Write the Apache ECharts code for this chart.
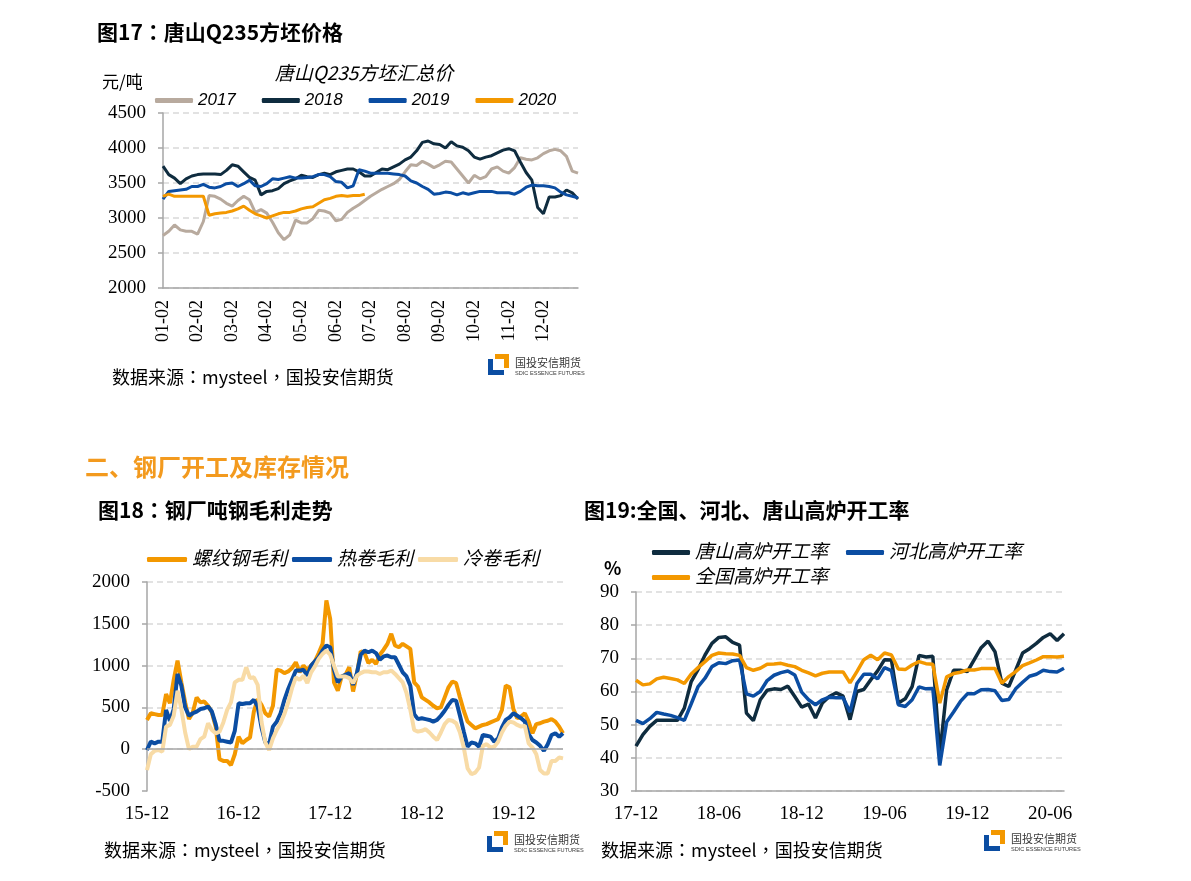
<!DOCTYPE html>
<html><head><meta charset="utf-8">
<script src="https://cdn.jsdelivr.net/npm/echarts/dist/echarts.min.js"></script>
<style>html,body{margin:0;padding:0;background:#fff;}#c{width:1191px;height:881px;}</style>
</head><body><div id="c"></div>
<script>
// ---------- Chart 17 : 唐山Q235方坯汇总价 ----------
const months1 = ['01','02','03','04','05','06','07','08','09','10','11','12'];
const days1 = ['02','07','12','17','22','27'];
const cat1 = [];
months1.forEach(m => days1.forEach(d => cat1.push(m + '-' + d)));
cat1.push('12-31');
const s2017 = [2750,2810,2900,2830,2810,2810,2770,2950,3320,3310,3270,3210,3170,3250,3310,3260,3080,3120,3070,2940,2790,2690,2760,2970,2930,2930,2990,3110,3100,3070,2960,2980,3080,3140,3190,3250,3310,3360,3410,3450,3490,3550,3660,3760,3750,3810,3770,3720,3760,3810,3800,3700,3600,3500,3610,3560,3590,3700,3730,3670,3640,3720,3860,3840,3830,3860,3920,3960,3980,3960,3880,3670,3640];
const s2018 = [3740,3620,3570,3490,3560,3600,3620,3630,3630,3630,3620,3680,3760,3740,3660,3580,3540,3330,3380,3390,3420,3490,3530,3560,3610,3590,3580,3620,3640,3620,3660,3680,3700,3700,3660,3600,3600,3650,3700,3690,3730,3770,3830,3870,3960,4080,4100,4060,4050,4000,4090,4030,4010,3960,3870,3840,3870,3890,3930,3970,3990,3960,3800,3650,3540,3150,3060,3300,3300,3320,3400,3360,3270];
const s2019 = [3270,3380,3390,3400,3410,3450,3450,3480,3440,3430,3450,3490,3500,3450,3490,3540,3460,3450,3490,3560,3550,3570,3590,3570,3570,3580,3590,3620,3620,3590,3520,3510,3430,3460,3690,3670,3640,3640,3640,3640,3630,3620,3600,3530,3500,3450,3410,3340,3350,3370,3360,3330,3360,3340,3360,3380,3380,3380,3360,3360,3360,3340,3380,3440,3470,3460,3460,3450,3430,3370,3330,3310,3290];
const s2020 = [3310,3340,3310,3310,3310,3310,3310,3310,3040,3060,3070,3080,3100,3130,3170,3110,3060,3030,3000,3030,3060,3080,3080,3100,3130,3150,3160,3210,3260,3280,3310,3320,3310,3320,3320,3340];

// ---------- Chart 18 : 钢厂吨钢毛利 ----------
const cat2 = [];
for (let y = 2015, m = 12; y < 2020 || (y === 2020 && m <= 6); ) {
  const mm = (m < 10 ? '0' : '') + m;
  cat2.push(y + '-' + mm + '-01'); cat2.push(y + '-' + mm + '-16');
  m++; if (m > 12) { m = 1; y++; }
}
const rebar = [350,430,420,410,410,660,550,830,1060,800,560,360,440,620,560,570,520,440,270,-120,-140,-140,-190,-60,150,70,110,140,450,600,530,430,390,520,950,940,910,930,970,1040,920,1000,950,1000,1050,1150,1260,1780,1560,800,700,870,890,980,690,900,1170,1150,1030,1070,1020,1130,1190,1260,1380,1240,1220,1260,1230,1200,800,750,620,590,560,520,490,500,620,740,810,790,620,460,330,290,250,270,290,300,320,340,360,470,760,740,480,370,390,430,330,190,300,310,330,340,360,330,270,190];
const hotRoll = [-10,90,70,90,90,470,340,480,900,760,500,400,430,450,480,490,510,450,300,100,100,90,80,220,550,540,550,550,590,510,260,80,60,270,330,430,590,720,830,940,940,950,880,1000,1050,1100,1180,1240,1220,950,800,870,890,910,770,910,1130,1180,1160,1180,1150,1070,1110,1120,1100,1100,1010,920,870,760,420,360,370,360,350,330,350,400,460,530,590,580,400,210,30,80,70,30,170,160,150,90,130,260,350,380,430,400,370,330,180,110,80,40,-20,60,170,190,150,190];
const coldRoll = [-250,-60,-20,-10,-30,270,290,400,700,480,200,0,30,30,120,150,310,230,190,210,320,470,560,800,830,830,980,850,860,770,330,80,-10,130,230,310,420,560,730,860,830,880,790,920,990,1080,1140,1180,1130,1000,870,870,870,850,790,880,910,930,930,920,920,900,920,920,940,900,850,800,670,470,230,210,220,240,200,150,110,200,300,350,340,310,200,20,-230,-300,-280,-220,40,60,20,30,90,200,280,330,320,290,270,280,70,20,-60,-250,-290,-290,-140,-140,-100,-110];

// ---------- Chart 19 : 高炉开工率 ----------
const cat3 = [];
for (let y = 2017, m = 12; y < 2020 || (y === 2020 && m <= 6); ) {
  const mm = (m < 10 ? '0' : '') + m;
  cat3.push(y + '-' + mm + '-01'); cat3.push(y + '-' + mm + '-16');
  m++; if (m > 12) { m = 1; y++; }
}
cat3.push('2020-07-01');
const tangshan = [43.5,47,49.5,51.3,51.3,51.3,51.3,55,63,66.7,71,74.5,76.3,76.5,74.8,74,53.5,51.2,57.5,60.4,60.8,60.6,61.6,58.5,55.3,56.2,52,56.5,58.5,59.6,58.6,51.5,60,60.6,63.5,66.2,69.6,69.5,56.5,57.8,61.5,70.9,70.4,70.6,41,60.5,66.4,66.4,66,69.6,73.2,75.2,72,62.5,61.5,66.4,71.6,72.9,74.5,76.3,77.4,75.4,77.4];
const hebei = [51.3,50.3,51.8,53.7,53.2,52.8,52.1,51.3,56.3,61.5,64,67.5,68.7,68.4,69.3,69.5,59.3,58.6,60,63.3,64.9,65.7,66.2,65,59.8,57.5,56,57.5,58.3,58.1,58.1,53.8,62.4,65.2,65.2,63.8,67.2,66.3,56,55.5,57.5,61.4,60.8,60.9,37.7,50.8,53.8,57,59.3,59.3,60.5,60.6,60.2,57.3,57.6,60.8,62.8,64.6,65.2,66.4,66,65.9,67];
const national = [63.4,62,62.3,63.8,64.3,63.9,63.5,62.4,65.3,67.2,69,70.9,71.6,71.4,71.3,70.9,67.2,66.4,67,68.2,68.3,68.5,67.9,67.5,66.4,65.6,64.7,65.5,65.9,65.9,65.9,62.6,66,69.6,70.9,69.6,71.6,71,66.8,66.6,68,69,68.4,68.2,56.5,64.4,65.4,65.8,66.5,66.5,66.9,66.9,66.9,62.5,64.5,66,67.8,68.6,69.5,70.5,70.5,70.4,70.6];

// ---------- styling ----------
const SERIF = '"Liberation Serif","Times New Roman",serif';
const CJK = '"Noto Sans CJK TC","Noto Sans CJK SC","Noto Sans",sans-serif';
const CJKSC = '"Noto Sans CJK SC","Noto Sans",sans-serif';
const LEG = '"Liberation Sans","Noto Sans CJK SC",sans-serif';
const GREY = '#a6a6a6', GRID = '#d9d9d9';
const C_BEIGE = '#b8aa9e', C_NAVY = '#0f2c3f', C_BLUE = '#0b4da2', C_ORANGE = '#f39800', C_PALE = '#f8dba6';
const ORANGE_TXT = '#f39a1e';

function yAx(grid, min, max, interval, splitColors) {
  return {
    gridIndex: grid, type: 'value', min, max, interval,
    axisLine: { show: true, lineStyle: { color: GREY, width: 1.5 } },
    axisTick: { show: true, length: 5, lineStyle: { color: GREY, width: 1.5 } },
    splitLine: { show: true, lineStyle: { color: splitColors || GRID, type: [6, 4], width: 1.5 } },
    axisLabel: { margin: 17, fontFamily: SERIF, fontSize: 19, color: '#000', formatter: (v) => String(v) }
  };
}
function line(name, xi, data, color, width, extra) {
  return Object.assign({
    name, type: 'line', xAxisIndex: xi, yAxisIndex: xi, data, symbol: 'none',
    color, lineStyle: { color, width }, animation: false
  }, extra || {});
}
function legend(data, left, top, gap, w, fs) {
  return {
    data, left, top, padding: 0, itemGap: gap, itemWidth: w, itemHeight: 5, icon: 'roundRect',
    selectedMode: false,
    textStyle: { fontSize: fs, fontStyle: 'italic', fontFamily: LEG, color: '#000' }
  };
}
function txt(text, x, y, font, fill, align) {
  return { type: 'text', x, y, silent: true,
    style: { text, font, fill: fill || '#000', textAlign: align || 'left', align: align || 'left',
      textVerticalAlign: 'middle', verticalAlign: 'middle' } };
}
function logo(x, y) {
  return { type: 'group', x, y, silent: true, children: [
    { type: 'rect', shape: { x: 7, y: 0, width: 14, height: 5 }, style: { fill: C_ORANGE } },
    { type: 'rect', shape: { x: 16, y: 0, width: 5, height: 14 }, style: { fill: C_ORANGE } },
    { type: 'rect', shape: { x: 0, y: 5, width: 5, height: 16 }, style: { fill: C_BLUE } },
    { type: 'rect', shape: { x: 0, y: 16, width: 16, height: 5 }, style: { fill: C_BLUE } },
    txt('国投安信期货', 27, 9, '11px ' + CJKSC, '#3a3a3a'),
    txt('SDIC ESSENCE FUTURES', 27, 19, '5.6px "Liberation Sans"', '#3a3a3a')
  ]};
}

const chart = echarts.init(document.getElementById('c'), null, { renderer: 'canvas' });
chart.setOption({
  animation: false,
  backgroundColor: '#fff',
  grid: [
    { left: 163, top: 113, width: 415, height: 175 },
    { left: 147, top: 582, width: 416, height: 209 },
    { left: 636, top: 592, width: 428, height: 199 }
  ],
  xAxis: [
    { gridIndex: 0, type: 'category', data: cat1, boundaryGap: false,
      axisLine: { lineStyle: { color: GREY, width: 1.5 } }, axisTick: { show: false },
      axisLabel: { interval: (i) => i % 6 === 0 && i < 72, rotate: 90, margin: 12,
        fontFamily: SERIF, fontSize: 18, color: '#000' } },
    { gridIndex: 1, type: 'category', data: cat2, boundaryGap: false,
      axisLine: { show: false }, axisTick: { show: false },
      axisLabel: { interval: (i) => i % 24 === 0, formatter: (v) => v.slice(2, 7), margin: 14,
        fontFamily: SERIF, fontSize: 19, color: '#000' } },
    { gridIndex: 2, type: 'category', data: cat3, boundaryGap: false,
      axisLine: { lineStyle: { color: GREY, width: 1.5 } }, axisTick: { show: false },
      axisLabel: { interval: (i) => i % 12 === 0, formatter: (v) => v.slice(2, 7), margin: 14,
        fontFamily: SERIF, fontSize: 19, color: '#000' } }
  ],
  yAxis: [
    yAx(0, 2000, 4500, 500),
    yAx(1, -500, 2000, 500, ['rgba(0,0,0,0)', GRID, GRID, GRID, GRID, GRID]),
    yAx(2, 30, 90, 10)
  ],
  legend: [
    legend(['2017', '2018', '2019', '2020'], 155, 92, 26, 38, 17),
    legend(['螺纹钢毛利', '热卷毛利', '冷卷毛利'], 147, 550, 5, 40, 19),
    legend(['唐山高炉开工率', '河北高炉开工率'], 652, 543, 18, 38, 19),
    legend(['全国高炉开工率'], 652, 568, 18, 38, 19)
  ],
  series: [
    line('2017', 0, s2017, C_BEIGE, 3),
    line('2018', 0, s2018, C_NAVY, 3),
    line('2019', 0, s2019, C_BLUE, 3),
    line('2020', 0, s2020, C_ORANGE, 3),
    line('螺纹钢毛利', 1, rebar, C_ORANGE, 4, {
      markLine: { silent: true, symbol: 'none', label: { show: false }, animation: false,
        lineStyle: { color: GREY, type: 'solid', width: 1.5 }, data: [{ yAxis: 0 }] } }),
    line('热卷毛利', 1, hotRoll, C_BLUE, 4),
    line('冷卷毛利', 1, coldRoll, C_PALE, 4),
    line('唐山高炉开工率', 2, tangshan, C_NAVY, 3.5),
    line('河北高炉开工率', 2, hebei, C_BLUE, 3.5),
    line('全国高炉开工率', 2, national, C_ORANGE, 3.5)
  ],
  graphic: [
    txt('图17：唐山Q235方坯价格', 97, 32, 'bold 21px ' + CJK),
    txt('唐山Q235方坯汇总价', 364, 73, 'italic 19px ' + CJKSC, '#000', 'center'),
    txt('元/吨', 102, 82, '17px ' + CJKSC),
    txt('数据来源：mysteel，国投安信期货', 112, 377, '18px ' + CJK),
    logo(488, 354),
    txt('二、钢厂开工及库存情况', 85, 467, 'bold 24px ' + CJKSC, ORANGE_TXT),
    txt('图18：钢厂吨钢毛利走势', 98, 510, 'bold 21px ' + CJK),
    txt('图19:全国、河北、唐山高炉开工率', 584, 510, 'bold 21px ' + CJKSC),
    txt('%', 604, 568, 'bold 18px ' + CJKSC),
    txt('数据来源：mysteel，国投安信期货', 104, 850, '18px ' + CJK),
    logo(487, 831),
    txt('数据来源：mysteel，国投安信期货', 601, 850, '18px ' + CJK),
    logo(984, 830)
  ]
});
</script></body></html>
